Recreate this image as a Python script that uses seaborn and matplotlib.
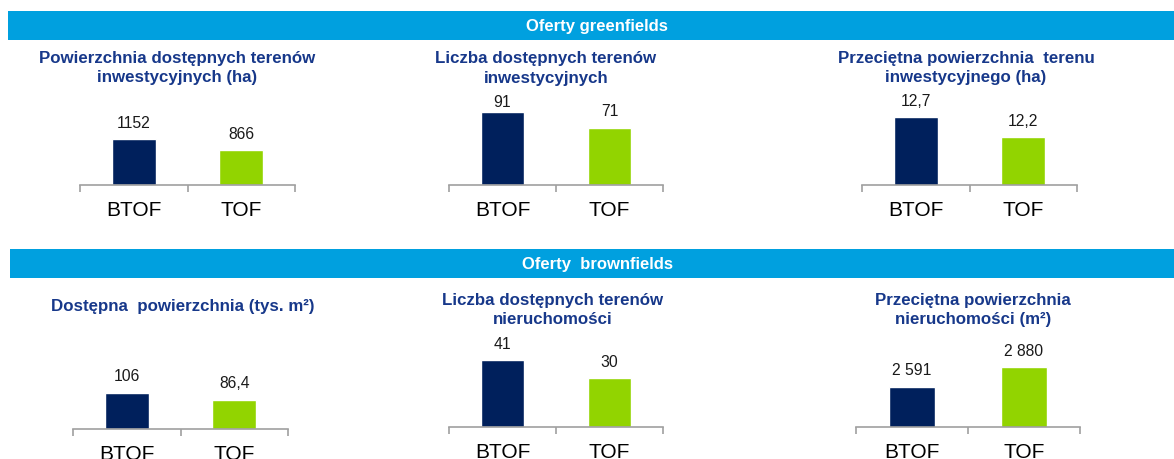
import matplotlib.pyplot as plt
import seaborn as sns
from matplotlib.patches import Rectangle
from matplotlib.ticker import FixedLocator

# --- Data ---
categories = ['BTOF', 'TOF']
section_titles = ['Oferty greenfields', 'Oferty  brownfields']
panel_titles = [
    'Powierzchnia dostępnych terenów\ninwestycyjnych (ha)',
    'Liczba dostępnych terenów\ninwestycyjnych',
    'Przeciętna powierzchnia  terenu\ninwestycyjnego (ha)',
    'Dostępna  powierzchnia (tys. m²)',
    'Liczba dostępnych terenów\nnieruchomości',
    'Przeciętna powierzchnia\nnieruchomości (m²)',
]
values = [
    [1152, 866],
    [91, 71],
    [12.7, 12.2],
    [106, 86.4],
    [41, 30],
    [2591, 2880],
]
value_labels = [
    ['1152', '866'],
    ['91', '71'],
    ['12,7', '12,2'],
    ['106', '86,4'],
    ['41', '30'],
    ['2 591', '2 880'],
]
# axis ranges (Excel auto-axis, some do not start at zero)
y_min = [0, 0, 11, 0, 0, 2000]
y_max = [2255, 112, 13.25, 276, 56.4, 3359]

NAVY = '#00205c'
GREEN = '#92d400'
HEADER = '#00a0df'
TITLE = '#17388a'
AXIS_GREY = '#a0a0a0'

W, H = 1174, 459


def fx(px):
    return px / W


def fy(py):
    return 1 - py / H


def main():
    sns.set_theme(style='white')
    plt.rcParams['font.family'] = ['Liberation Sans', 'DejaVu Sans']

    fig = plt.figure(figsize=(W / 100, H / 100), dpi=100)

    # --- 1. Section header bars ---
    headers = [(8, 11, 40), (10, 249, 278)]
    for (x0, top, bot), label in zip(headers, section_titles):
        fig.add_artist(Rectangle((fx(x0), fy(bot)), 1 - fx(x0), (bot - top) / H,
                                 transform=fig.transFigure, color=HEADER, lw=0))
        fig.text(fx(597), fy((top + bot) / 2 + 0.5), label, color='white',
                 fontsize=12, fontweight='bold', ha='center', va='center')

    # --- 2. Bar panels ---
    # (left px, right px, baseline px, top px)
    boxes = [
        (80, 295, 185, 95), (449, 663, 185, 95), (862, 1077, 185, 95),
        (73, 288, 429, 335), (449, 663, 427, 335), (856, 1080, 427, 335),
    ]
    title_pos = [(177, 68), (546, 68.5), (966, 68), (183, 307), (553, 310), (973, 310)]

    for i, (l, r, b, t) in enumerate(boxes):
        ax = fig.add_axes([fx(l), fy(b), (r - l) / W, (b - t) / H])
        sns.barplot(x=categories, y=values[i], hue=categories,
                    palette=[NAVY, GREEN], width=0.41, legend=False,
                    saturation=1, ax=ax)
        ax.set_xlim(-0.5, 1.5)
        ax.set_ylim(y_min[i], y_max[i])
        ax.patch.set_alpha(0)

        for s in ['top', 'left', 'right']:
            ax.spines[s].set_visible(False)
        ax.spines['bottom'].set_color(AXIS_GREY)
        ax.spines['bottom'].set_linewidth(1.2)
        ax.set_yticks([])
        ax.set_ylabel('')

        ax.xaxis.set_minor_locator(FixedLocator([-0.5, 0.5, 1.5]))
        ax.tick_params(axis='x', which='minor', length=5, width=1.2,
                       color=AXIS_GREY, direction='out', bottom=True)
        ax.tick_params(axis='x', which='major', length=0, pad=11.5,
                       labelsize=15, labelcolor='black')

        # data labels sit ~16px above the bar, but are kept inside the plot area
        top_disp = ax.transAxes.transform((0, 1))[1]
        for j, lab in enumerate(value_labels[i]):
            bx, by = ax.transData.transform((j, values[i][j]))
            ly = min(by + 16, top_disp - 7)
            _, ly_data = ax.transData.inverted().transform((bx, ly))
            ax.text(j, ly_data, lab, ha='center', va='center',
                    fontsize=11.3, color='#1a1a1a', clip_on=False)

        cx, cy = title_pos[i]
        fig.text(fx(cx), fy(cy), panel_titles[i], color=TITLE, fontsize=12.2,
                 fontweight='bold', ha='center', va='center',
                 multialignment='center', linespacing=1.35)

    fig.savefig('out.png', dpi=100)


if __name__ == '__main__':
    main()
